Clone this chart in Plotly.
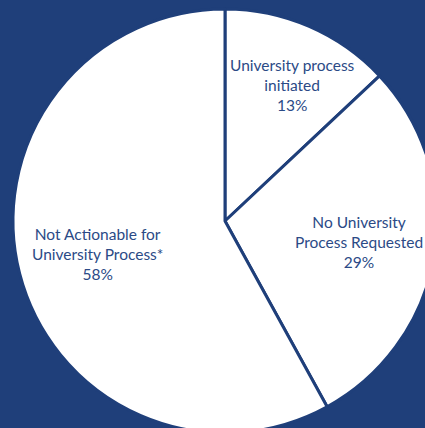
import math
import plotly.graph_objects as go

labels = ["University process<br>initiated", "No University<br>Process Requested", "Not Actionable for<br>University Process*"]
values = [13, 29, 58]
label_radius = [0.715, 0.64, 0.62]   # fraction of pie radius where each label sits
label_shift_deg = [3, 0, 0]          # small angular nudge of each label

BG = "#1F3F7A"
TXT = "#2B4A86"

W, H = 450, 442
cx, cy, r = 225, 221, 212

fig = go.Figure(go.Pie(
    labels=labels,
    values=values,
    sort=False,
    direction="clockwise",
    rotation=0,
    marker=dict(colors=["#FFFFFF"] * 3, line=dict(color=BG, width=3)),
    textinfo="none",
    domain=dict(x=[(cx - r) / W, (cx + r) / W], y=[(H - cy - r) / H, (H - cy + r) / H]),
    hoverinfo="label+percent",
    showlegend=False,
))

total = sum(values)
cum = 0
for lab, v, f, sh in zip(labels, values, label_radius, label_shift_deg):
    mid = (cum + v / 2) / total * 2 * math.pi + math.radians(sh)
    cum += v
    px = cx + f * r * math.sin(mid)
    py = cy - f * r * math.cos(mid)
    fig.add_annotation(
        x=px / W, y=1 - py / H, xref="paper", yref="paper",
        text=f"{lab}<br>{round(v / total * 100)}%",
        showarrow=False, align="center", xanchor="center", yanchor="middle",
        font=dict(family="Lato", size=15.5, color=TXT),
    )

fig.update_layout(
    width=W, height=H,
    margin=dict(l=0, r=0, t=0, b=0),
    paper_bgcolor=BG,
    plot_bgcolor=BG,
)

fig.write_html(
    "out.html",
    config={"displayModeBar": False},
    post_script="document.body.style.margin='0px';document.body.style.overflow='hidden';",
)
